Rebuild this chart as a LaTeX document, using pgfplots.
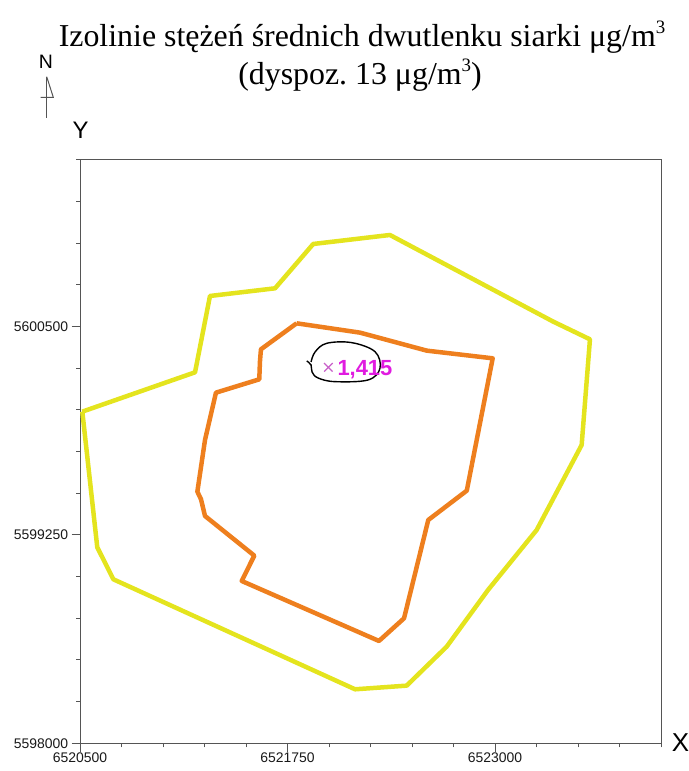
\documentclass[border=0pt]{standalone}
\usepackage{pgfplots}
\pgfplotsset{compat=1.18}
\usepackage{fontspec}
\setmainfont{Liberation Sans}
\newfontfamily\titlefont{Liberation Serif}
\definecolor{isoyellow}{HTML}{E4E41E}
\definecolor{isoorange}{HTML}{EE7F1E}
\definecolor{peakmag}{HTML}{E01BE0}
\definecolor{markmag}{HTML}{C860C8}
\definecolor{axisgray}{HTML}{555555}
\newcommand{\supthree}{\raisebox{0.42em}{\fontsize{19}{19}\selectfont 3}}
\begin{document}
\begin{tikzpicture}[x=1bp,y=1bp]
\useasboundingbox (0,0) rectangle (689,771);
% title
\node[font=\titlefont\fontsize{32}{38}\selectfont, anchor=base, inner sep=0pt] at (362,724) {Izolinie stężeń średnich dwutlenku siarki μg/m\supthree};
\node[font=\titlefont\fontsize{32}{38}\selectfont, anchor=base, inner sep=0pt] at (360,686) {(dyspoz.\ 13 μg/m\supthree)};
% north arrow
\node[font=\fontsize{19.5}{22}\selectfont, inner sep=0pt] at (45.8,709) {N};
\draw[axisgray, line width=1bp] (46.7,694.3) -- (46.7,652.7);
\draw[axisgray, line width=1bp] (46.7,694.3) -- (53.3,673.7) -- (40.7,673.7);
% axis labels
\node[font=\fontsize{24}{28}\selectfont, inner sep=0pt] at (80.5,641) {Y};
\node[font=\fontsize{26}{30}\selectfont, inner sep=0pt] at (680.5,28.5) {X};
\begin{axis}[
  at={(80bp,27.7bp)}, anchor=south west,
  width=581bp, height=583.3bp, scale only axis,
  xmin=6520500, xmax=6524000, ymin=5598000, ymax=5601500,
  scaled x ticks=false, scaled y ticks=false,
  axis line style={axisgray, line width=1bp},
  tick style={axisgray, line width=1bp},
  tick align=outside, tick pos=left,
  major tick length=8.3bp, minor tick length=4bp,
  xtick={6520500,6521750,6523000},
  xticklabels={6520500,6521750,6523000},
  ytick={5598000,5599250,5600500},
  yticklabels={5598000,5599250,5600500},
  minor xtick={6520750,6521000,6521250,6521500,6522000,6522250,6522500,6522750,6523250,6523500,6523750,6524000},
  minor ytick={5598250,5598500,5598750,5599000,5599500,5599750,5600000,5600250,5600750,5601000,5601250,5601500},
  ticklabel style={font=\fontsize{14}{16}\selectfont, text=black!90},
  xticklabel style={yshift=2.5bp},
  /pgf/number format/assume math mode=true,
  clip=false,
]
% outer isoline (yellow)
\addplot[isoyellow, line width=4.5bp, line join=round] coordinates {
(6520514,5599990) (6521193,5600226) (6521283,5600684) (6521675,5600730)
(6521905,5600996) (6522367,5601050) (6523351,5600530) (6523572,5600424)
(6523522,5599790) (6523251,5599280) (6522958,5598920) (6522709,5598580)
(6522468,5598346) (6522157,5598324) (6520701,5598984) (6520604,5599176)
(6520514,5599990)};
% inner isoline (orange)
\addplot[isoorange, line width=4.5bp, line join=round] coordinates {
(6521805,5600520) (6522187,5600464) (6522589,5600356) (6522986,5600310)
(6522830,5599516) (6522598,5599340) (6522452,5598750) (6522301,5598614)
(6521474,5598974) (6521550,5599126) (6521253,5599364) (6521229,5599464)
(6521207,5599510) (6521253,5599820) (6521319,5600104) (6521580,5600184)
(6521584,5600290) (6521590,5600364) (6521805,5600520)};
% small isoline around maximum (black)
\addplot[black, line width=1.4bp, smooth, tension=0.6] coordinates {
(6521866,5600294) (6521892,5600270) (6521898,5600228) (6521934,5600192)
(6522036,5600170) (6522235,5600180) (6522307,5600250) (6522277,5600350)
(6522137,5600404) (6521986,5600400) (6521916,5600348) (6521892,5600288)};
% maximum point
\addplot[only marks, mark=x, mark size=6bp, markmag, line width=1.2bp] coordinates {(6521996,5600256)};
\node[anchor=base west, font=\fontspec{Liberation Sans Bold}\fontsize{22}{26}\selectfont, text=peakmag, inner sep=0pt] at (axis cs:6522050,5600206) {1,415};
\end{axis}
\end{tikzpicture}
\end{document}
